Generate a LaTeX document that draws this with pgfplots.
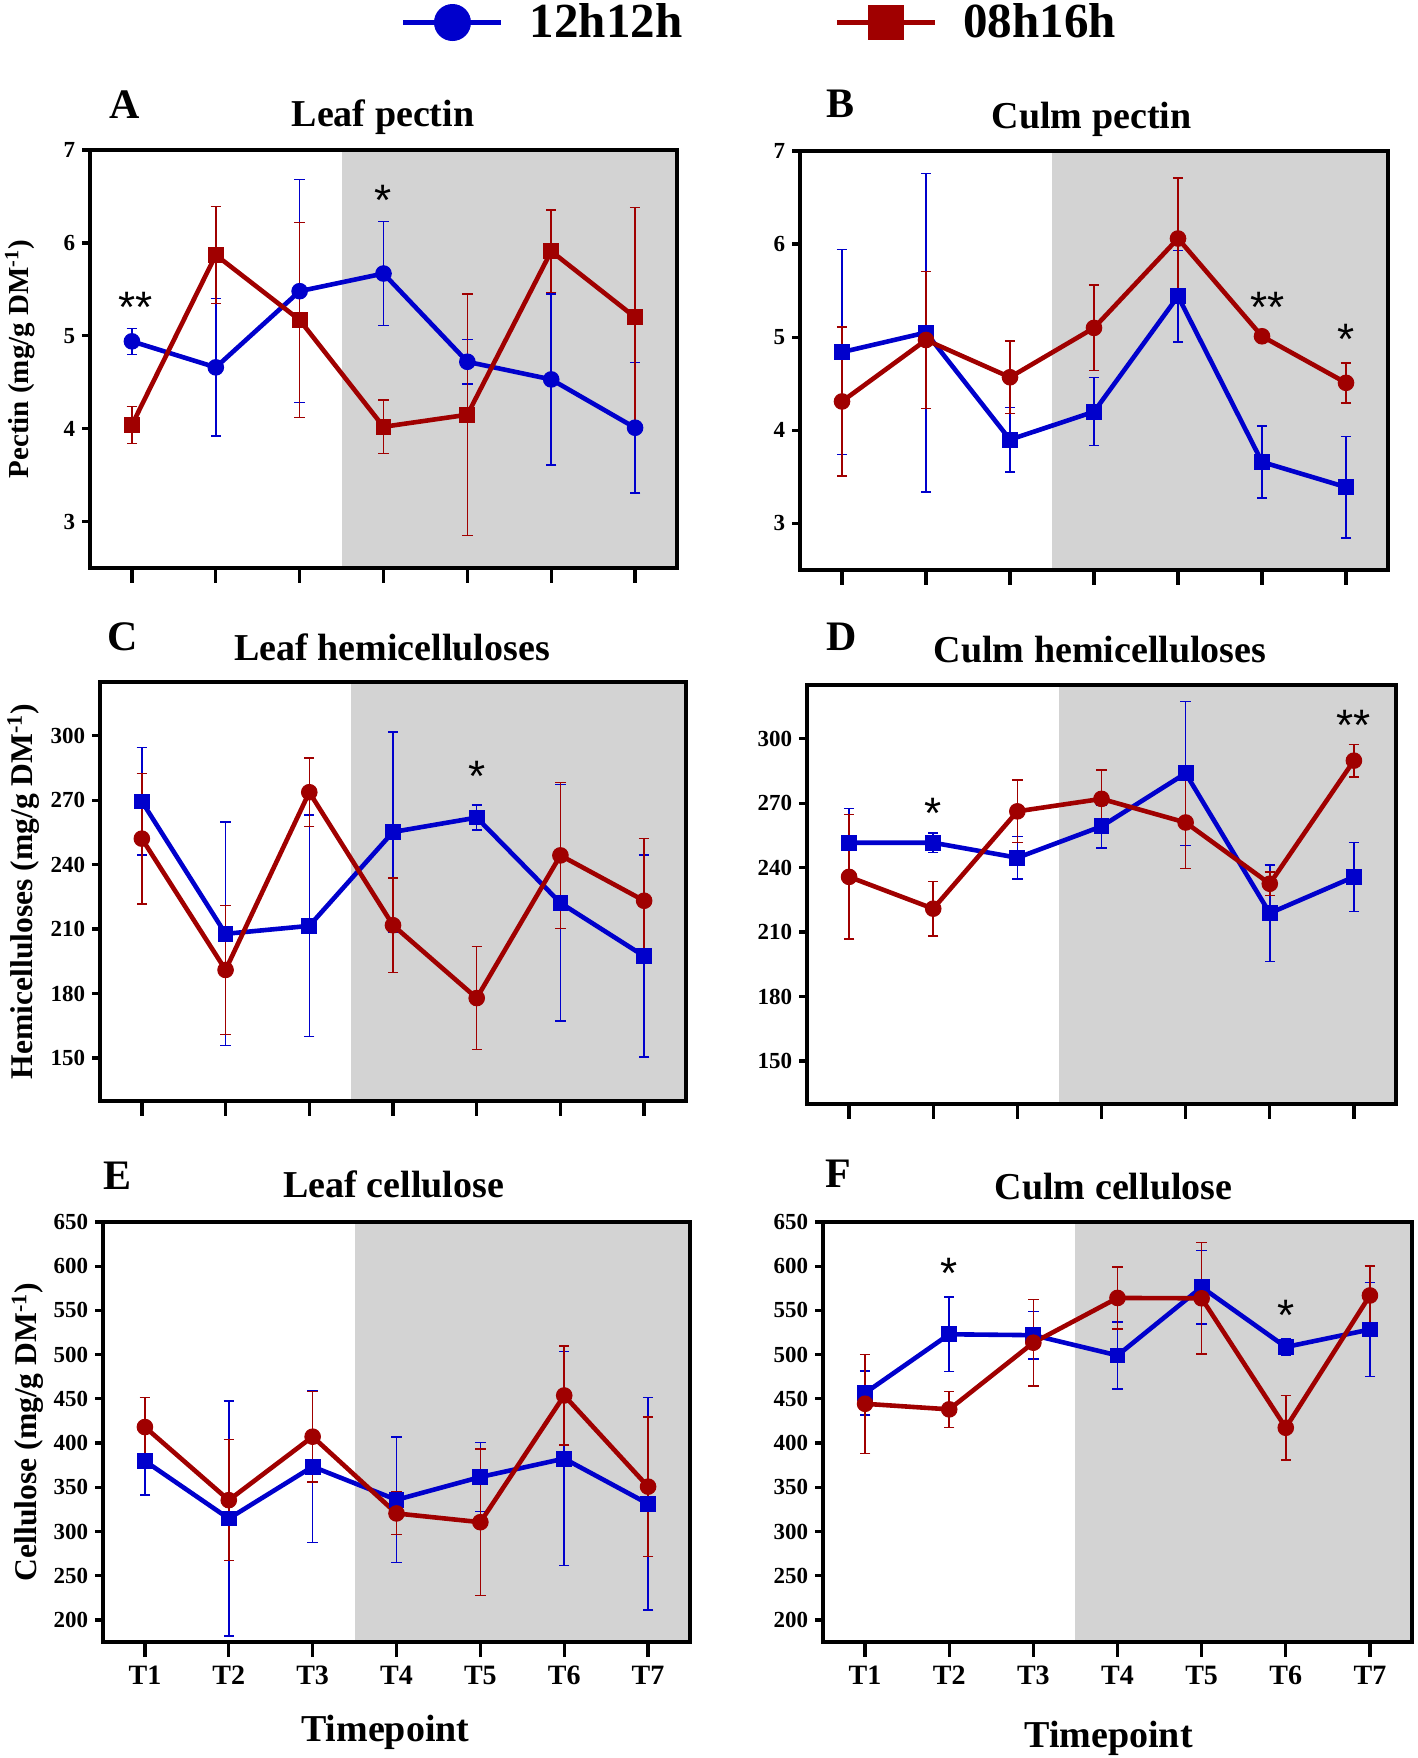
\documentclass[border=0pt]{standalone}
\usepackage{fontspec}
\setmainfont{Liberation Serif}
\newfontfamily\starfont{Liberation Sans}
\usepackage{pgfplots}
\pgfplotsset{compat=1.18}
\definecolor{cblue}{RGB}{0,0,204}
\definecolor{cred}{RGB}{160,0,0}
\definecolor{shade}{RGB}{211,211,211}
\newcommand{\fs}[1]{\fontsize{#1}{#1}\selectfont\bfseries}
\pgfplotsset{
  panel/.style={
    scale only axis, anchor=south west,
    xmin=0.5, xmax=7.5, xtick={1,2,3,4,5,6,7},
    axis line style={line width=1.65pt},
    every tick/.style={black, line width=1.65pt},
    tick align=outside, xtick pos=bottom, ytick pos=left,
    major tick length=5.5pt,
    xtick style={/pgfplots/major tick length=7.5pt},
    ytick style={/pgfplots/major tick length=3.8pt},
    axis on top,
    /pgf/number format/assume math mode=true,
    yticklabel style={font=\fs{11.5}, anchor=east, inner sep=0pt, xshift=-1.7pt},
    xticklabel style={font=\fs{14}, anchor=north, inner sep=0pt, yshift=-6.5pt},
    ylabel style={font=\fs{15.8}, anchor=center},
    xlabel style={font=\fs{19}, anchor=base},
  },
  errs/.style={/pgfplots/error bars/y dir=both, /pgfplots/error bars/y explicit,
    /pgfplots/error bars/error bar style={line width=0.75pt},
    /pgfplots/error bars/error mark options={rotate=90, mark size=2.6pt, line width=0.75pt}},
  bl/.style={cblue, line width=2.3pt, mark options={solid, fill=cblue, line width=0.5pt}, errs},
  rd/.style={cred, line width=2.3pt, mark options={solid, fill=cred, line width=0.5pt}, errs},
  circ/.style={mark=*, mark size=3.9pt},
  sq/.style={mark=square*, mark size=3.7pt},
  legend image code/.code={\draw[#1, mark=none] (0pt,7.5pt) -- (49pt,7.5pt); \draw[#1] plot coordinates {(24.5pt,7.5pt)};},
}
\newcommand{\sig}[3]{\node[font=\starfont\fontsize{22}{22}\selectfont, anchor=base, yshift=-12pt] at (axis cs:#1,#2) {#3};}
\begin{document}
\begin{tikzpicture}
\path[use as bounding box] (0,0) rectangle (709pt,879pt);
% ---------- A ----------
\begin{axis}[panel, at={(45pt,595pt)}, width=293.5pt, height=209pt,
  ymin=2.5, ymax=7, ytick={3,4,5,6,7}, xticklabels={},
  ylabel={Pectin (mg/g DM\textsuperscript{-1})},
  ylabel style={at={(rel axis cs:-0.119,0.5)}, font=\fs{14.5}},
  legend columns=2,
  legend style={draw=none, fill=none, inner sep=0pt, outer sep=0pt,
    nodes={inner sep=0pt, text depth=0pt, font=\fs{24.5}}, cells={anchor=base west},
    /tikz/every odd column/.append style={column sep=13pt},
    /tikz/every even column/.append style={column sep=76pt},
    at={(0.5298,1.3062)}, anchor=west}]
\addlegendimage{cblue, line width=2.5pt, mark=*, mark size=9pt, mark options={line width=0.5pt, fill=cblue}}
\addlegendimage{cred, line width=2.5pt, mark=square*, mark size=8.7pt, mark options={line width=0.5pt, fill=cred}}
\legend{12h12h, 08h16h}
\addplot[fill=shade, draw=none, forget plot] coordinates {(3.5,2.5) (3.5,7) (7.5,7) (7.5,2.5)} -- cycle;
\addplot[bl, circ, forget plot] coordinates {(1,4.94) +- (0,0.14) (2,4.66) +- (0,0.74) (3,5.48) +- (0,1.2) (4,5.67) +- (0,0.56) (5,4.72) +- (0,0.24) (6,4.53) +- (0,0.92) (7,4.01) +- (0,0.70)};
\addplot[rd, sq, forget plot] coordinates {(1,4.04) +- (0,0.2) (2,5.87) +- (0,0.52) (3,5.17) +- (0,1.05) (4,4.02) +- (0,0.29) (5,4.15) +- (0,1.3) (6,5.91) +- (0,0.445) (7,5.20) +- (0,1.18)};
\sig{1.04}{5.40}{**}
\sig{4}{6.55}{*}
\end{axis}
% ---------- B ----------
\begin{axis}[panel, at={(400pt,594pt)}, width=294pt, height=209.5pt,
  ymin=2.5, ymax=7, ytick={3,4,5,6,7}, xticklabels={}]
\addplot[fill=shade, draw=none] coordinates {(3.5,2.5) (3.5,7) (7.5,7) (7.5,2.5)} -- cycle;
\addplot[bl, sq] coordinates {(1,4.84) +- (0,1.1) (2,5.05) +- (0,1.71) (3,3.90) +- (0,0.345) (4,4.20) +- (0,0.365) (5,5.44) +- (0,0.49) (6,3.66) +- (0,0.385) (7,3.39) +- (0,0.545)};
\addplot[rd, circ] coordinates {(1,4.31) +- (0,0.80) (2,4.97) +- (0,0.735) (3,4.57) +- (0,0.39) (4,5.10) +- (0,0.46) (5,6.06) +- (0,0.65) (6,5.01) +- (0,0.05) (7,4.51) +- (0,0.215)};
\sig{6.07}{5.42}{**}
\sig{7}{5.07}{*}
\end{axis}
% ---------- C ----------
\begin{axis}[panel, at={(50pt,328.5pt)}, width=293pt, height=209.5pt,
  ymin=130, ymax=325, ytick={150,180,210,240,270,300}, xticklabels={},
  ylabel={Hemicelluloses (mg/g DM\textsuperscript{-1})},
  ylabel style={at={(rel axis cs:-0.131,0.5)}}]
\addplot[fill=shade, draw=none] coordinates {(3.5,130) (3.5,325) (7.5,325) (7.5,130)} -- cycle;
\addplot[bl, sq] coordinates {(1,269.4) +- (0,25) (2,207.8) +- (0,52) (3,211.5) +- (0,51.5) (4,255.2) +- (0,46.5) (5,261.9) +- (0,5.8) (6,222.2) +- (0,55) (7,197.4) +- (0,47)};
\addplot[rd, circ] coordinates {(1,252.1) +- (0,30.4) (2,191) +- (0,30) (3,273.7) +- (0,16) (4,211.8) +- (0,22) (5,177.9) +- (0,24) (6,244.3) +- (0,34) (7,223.2) +- (0,29)};
\sig{5}{285.1}{*}
\end{axis}
% ---------- D ----------
\begin{axis}[panel, at={(403.5pt,327pt)}, width=294.5pt, height=209.5pt,
  ymin=130, ymax=325, ytick={150,180,210,240,270,300}, xticklabels={}]
\addplot[fill=shade, draw=none] coordinates {(3.5,130) (3.5,325) (7.5,325) (7.5,130)} -- cycle;
\addplot[bl, sq] coordinates {(1,251.6) +- (0,16) (2,251.6) +- (0,4.5) (3,244.6) +- (0,10) (4,259.2) +- (0,10) (5,283.9) +- (0,33.5) (6,218.8) +- (0,22.4) (7,235.7) +- (0,16)};
\addplot[rd, circ] coordinates {(1,235.7) +- (0,29) (2,220.9) +- (0,12.7) (3,266.2) +- (0,14.6) (4,272) +- (0,13.4) (5,261) +- (0,21.5) (6,232.5) +- (0,5.4) (7,289.8) +- (0,7.6)};
\sig{2}{269.4}{*}
\sig{7}{310.2}{**}
\end{axis}
% ---------- E ----------
\begin{axis}[panel, at={(51.5pt,58pt)}, width=293.5pt, height=210pt,
  ymin=175, ymax=650, ytick={200,250,...,650},
  xticklabels={T1,T2,T3,T4,T5,T6,T7},
  ylabel={Cellulose (mg/g DM\textsuperscript{-1})},
  ylabel style={at={(rel axis cs:-0.128,0.5)}},
  xlabel={Timepoint}, xlabel style={at={(rel axis cs:0.481,-0.238)}}]
\addplot[fill=shade, draw=none] coordinates {(3.5,175) (3.5,650) (7.5,650) (7.5,175)} -- cycle;
\addplot[bl, sq] coordinates {(1,379.7) +- (0,38.5) (2,314.6) +- (0,133) (3,373.3) +- (0,86) (4,335.8) +- (0,71) (5,361.6) +- (0,39) (6,382.4) +- (0,121) (7,331.3) +- (0,120)};
\addplot[rd, circ] coordinates {(1,418.1) +- (0,33.5) (2,335.4) +- (0,68.5) (3,407.2) +- (0,51) (4,320.4) +- (0,24) (5,310.5) +- (0,83) (6,453.8) +- (0,56) (7,350.7) +- (0,79)};
\end{axis}
% ---------- F ----------
\begin{axis}[panel, at={(411.5pt,58pt)}, width=294.5pt, height=210pt,
  ymin=175, ymax=650, ytick={200,250,...,650},
  xticklabels={T1,T2,T3,T4,T5,T6,T7},
  xlabel={Timepoint}, xlabel style={at={(rel axis cs:0.485,-0.252)}}]
\addplot[fill=shade, draw=none] coordinates {(3.5,175) (3.5,650) (7.5,650) (7.5,175)} -- cycle;
\addplot[bl, sq] coordinates {(1,456.6) +- (0,25) (2,523) +- (0,42) (3,522) +- (0,27) (4,499.1) +- (0,38) (5,576.3) +- (0,41.5) (6,508.6) +- (0,9.3) (7,528.4) +- (0,53)};
\addplot[rd, circ] coordinates {(1,444.4) +- (0,56) (2,438.1) +- (0,20.4) (3,513.5) +- (0,49) (4,564.1) +- (0,35) (5,563.7) +- (0,63) (6,417.3) +- (0,36.4) (7,566.9) +- (0,33.5)};
\sig{2}{601.6}{*}
\sig{6}{554.2}{*}
\end{axis}
% ---------- titles ----------
\node[anchor=base, font=\fs{21}] at (62.25pt,819.5pt) {A};
\node[anchor=base, font=\fs{19}] at (191.5pt,815.75pt) {Leaf pectin};
\node[anchor=base, font=\fs{21}] at (420pt,820.2pt) {B};
\node[anchor=base, font=\fs{19}] at (545.8pt,814.85pt) {Culm pectin};
\node[anchor=base, font=\fs{21}] at (61.5pt,553.7pt) {C};
\node[anchor=base, font=\fs{19}] at (196pt,548.75pt) {Leaf hemicelluloses};
\node[anchor=base, font=\fs{21}] at (420.8pt,553.7pt) {D};
\node[anchor=base, font=\fs{19}] at (550pt,547.9pt) {Culm hemicelluloses};
\node[anchor=base, font=\fs{21}] at (58.7pt,284.3pt) {E};
\node[anchor=base, font=\fs{19}] at (196.8pt,280pt) {Leaf cellulose};
\node[anchor=base, font=\fs{21}] at (419.3pt,285.3pt) {F};
\node[anchor=base, font=\fs{19}] at (556.8pt,279.3pt) {Culm cellulose};
\end{tikzpicture}
\end{document}
